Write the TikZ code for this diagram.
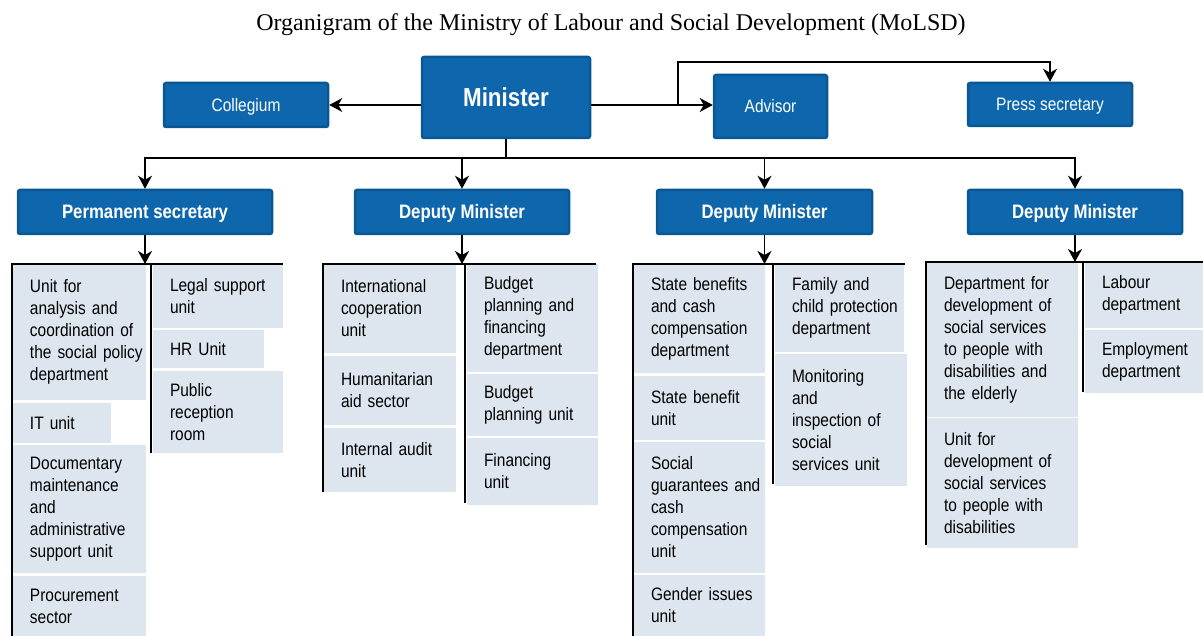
\documentclass[tikz,border=0pt]{standalone}
\usepackage{fontspec}
\setmainfont{Liberation Sans}[FakeStretch=0.86]
\newfontfamily\titlefont{Liberation Serif}
\usepackage{xcolor}
\usepackage{tikz}
\usetikzlibrary{arrows.meta, positioning}

\definecolor{mblue}{RGB}{14,102,172}
\definecolor{mblueD}{RGB}{9,88,148}
\definecolor{unitfill}{RGB}{221,230,238}

\begin{document}
\begin{tikzpicture}[
    x=1pt, y=-1pt,
    every node/.style={font=\fontsize{18}{22}\selectfont},
    boss/.style={rectangle, fill=mblue, draw=mblueD, line width=2.5pt, rounded corners=2pt, text=white, inner sep=0pt, text height=12.9pt, text depth=0pt},
    chief/.style={boss, minimum height=44pt, text height=14pt, font=\bfseries\fontsize{19.5}{22}\selectfont},
    unitbox/.style={rectangle, fill=unitfill, anchor=north west, inner sep=0pt, outer sep=0pt, align=left, execute at begin node={\leftskip=17pt}},
    link/.style={line width=1.6pt},
    arr/.style={line width=1.6pt, -{Stealth[length=13pt, width=14pt, inset=4pt]}},
]
\useasboundingbox (0,0) rectangle (1203,636);
\fill[white] (0,0) rectangle (1203,636);

\node[font=\titlefont\fontsize{24}{28}\selectfont] (title) at (611,25) {Organigram of the Ministry of Labour and Social Development (MoLSD)};

% Top level
\node[boss, minimum width=168pt, minimum height=81pt, text height=18.6pt, font=\bfseries\fontsize{26}{30}\selectfont] (minister) at (506,97.5) {Minister};
\node[boss, minimum width=164pt, minimum height=44pt] (collegium) at (246,105) {Collegium};
\node[boss, minimum width=113pt, minimum height=63pt] (advisor) at (770.5,106.5) {Advisor};
\node[boss, minimum width=164pt, minimum height=43pt] (press) at (1050,104.5) {Press secretary};

% Second level
\node[chief, minimum width=254pt] (permsec) at (145,212) {Permanent secretary};
\node[chief, minimum width=214pt] (dep1) at (462,212) {Deputy Minister};
\node[chief, minimum width=215pt] (dep2) at (764.5,212) {Deputy Minister};
\node[chief, minimum width=214pt] (dep3) at (1075,212) {Deputy Minister};

% Units of the permanent secretary
\node[unitbox, text width=133pt, minimum height=136pt] (analysis) at (13,264) {Unit for\\analysis and\\coordination of\\the social policy\\department};
\node[unitbox, text width=98pt, minimum height=40pt] (itunit) at (13,403) {IT unit};
\node[unitbox, text width=133pt, minimum height=128pt] (docs) at (13,445) {Documentary\\maintenance\\and\\administrative\\support unit};
\node[unitbox, text width=133pt, minimum height=60pt] (procure) at (13,576) {Procurement\\sector};
\node[unitbox, text width=130pt, minimum height=64pt] (legal) at (153,264) {Legal support\\unit};
\node[unitbox, text width=111pt, minimum height=38pt] (hr) at (153,330) {HR Unit};
\node[unitbox, text width=130pt, minimum height=82pt] (reception) at (153,371) {Public\\reception\\room};

% Units of the first deputy
\node[unitbox, text width=132pt, minimum height=89pt] (intl) at (324,264) {International\\cooperation\\unit};
\node[unitbox, text width=132pt, minimum height=69pt] (humaid) at (324,356) {Humanitarian\\aid sector};
\node[unitbox, text width=132pt, minimum height=64pt] (audit) at (324,428) {Internal audit\\unit};
\node[unitbox, text width=131pt, minimum height=108pt] (budgetdep) at (467,264) {Budget\\planning and\\financing\\department};
\node[unitbox, text width=131pt, minimum height=62pt] (budgetunit) at (467,374) {Budget\\planning unit};
\node[unitbox, text width=131pt, minimum height=67pt] (financing) at (467,438) {Financing\\unit};

% Units of the second deputy
\node[unitbox, text width=131pt, minimum height=109pt] (benefits) at (634,264) {State benefits\\and cash\\compensation\\department};
\node[unitbox, text width=131pt, minimum height=64pt] (benefitunit) at (634,376) {State benefit\\unit};
\node[unitbox, text width=131pt, minimum height=131pt] (guarantees) at (634,442) {Social\\guarantees and\\cash\\compensation\\unit};
\node[unitbox, text width=131pt, minimum height=61pt] (gender) at (634,575) {Gender issues\\unit};
\node[unitbox, text width=129pt, minimum height=88pt] (family) at (775,264) {Family and\\child protection\\department};
\node[unitbox, text width=132pt, minimum height=132pt] (monitor) at (775,354) {Monitoring\\and\\inspection of\\social\\services unit};

% Units of the third deputy
\node[unitbox, text width=151pt, minimum height=155pt] (elderly) at (927,262) {Department for\\development of\\social services\\to people with\\disabilities and\\the elderly};
\node[unitbox, text width=151pt, minimum height=130pt] (disab) at (927,418) {Unit for\\development of\\social services\\to people with\\disabilities};
\node[unitbox, text width=118pt, minimum height=66pt] (labour) at (1085,262) {Labour\\department};
\node[unitbox, text width=118pt, minimum height=63pt] (employ) at (1085,330) {Employment\\department};

% Unit brackets
\foreach \g/\xl/\xm/\xr/\yt/\ybl/\ybm in {1/12/151/283/264/636/453, 2/323/465/596/264/492/503, 3/633/773/905/264/636/484, 4/926/1083/1203/262/545/392}{
  \coordinate (g\g-nw) at (\xl,\yt);
  \coordinate (g\g-ne) at (\xr,\yt);
  \coordinate (g\g-sw) at (\xl,\ybl);
  \coordinate (g\g-mt) at (\xm,\yt);
  \coordinate (g\g-mb) at (\xm,\ybm);
  \draw[link] (g\g-sw) -- (g\g-nw) -- (g\g-ne);
  \draw[link] (g\g-mt) -- (g\g-mb);
}

% Connectors
\coordinate (bus) at (506,158);
\coordinate (jog) at (678,105);
\coordinate (jogtop) at (678,62);
\draw[arr] (minister.west |- collegium.east) -- (collegium.east);
\draw[arr] (minister.east |- jog) -- (advisor.west |- jog);
\draw[arr] (jog) -- (jogtop) -| (press.north);
\draw[link] (minister.south) -- (bus);
\draw[arr] (bus) -| (permsec.north);
\draw[arr] (bus) -| (dep1.north);
\draw[arr] (bus) -| (dep2.north);
\draw[arr] (bus) -| (dep3.north);
\draw[arr] (permsec.south) -- (permsec.south |- g1-nw);
\draw[arr] (dep1.south) -- (dep1.south |- g2-nw);
\draw[arr] (dep2.south) -- (dep2.south |- g3-nw);
\draw[arr] (dep3.south) -- (dep3.south |- g4-nw);

\end{tikzpicture}
\end{document}
